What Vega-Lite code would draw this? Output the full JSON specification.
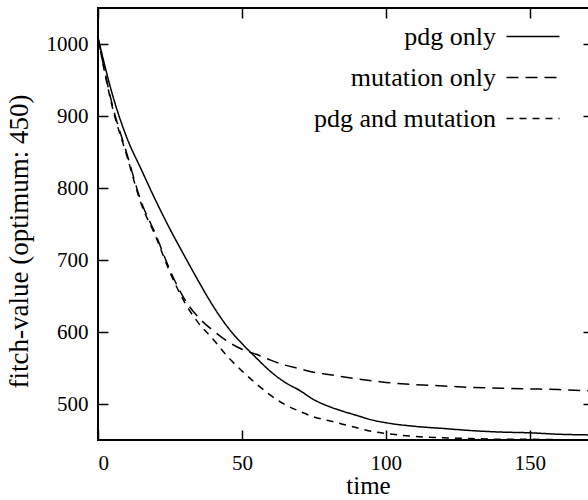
{
  "$schema": "https://vega.github.io/schema/vega-lite/v6.json",
  "autosize": "none",
  "width": 495,
  "height": 432,
  "padding": {"left": 98, "top": 8, "right": 0, "bottom": 60},
  "background": "white",
  "config": {
    "view": {"stroke": "black", "strokeWidth": 2, "fill": "transparent"},
    "font": "Liberation Serif",
    "axis": {
      "domain": false,
      "tickColor": "black",
      "tickWidth": 1.5,
      "tickSize": 10,
      "gridColor": "black",
      "gridWidth": 1.5,
      "gridOpacity": 1,
      "labelFont": "Liberation Serif",
      "labelFontSize": 21,
      "labelColor": "black",
      "titleFont": "Liberation Serif",
      "titleFontSize": 27,
      "titleFontWeight": "normal",
      "titleColor": "black"
    }
  },
  "data": {
    "values": [
      {"time": 0, "series": "pdg only", "value": 1009},
      {"time": 5, "series": "pdg only", "value": 930},
      {"time": 10, "series": "pdg only", "value": 870},
      {"time": 15, "series": "pdg only", "value": 826},
      {"time": 20, "series": "pdg only", "value": 783},
      {"time": 25, "series": "pdg only", "value": 743},
      {"time": 30, "series": "pdg only", "value": 706},
      {"time": 35, "series": "pdg only", "value": 670},
      {"time": 40, "series": "pdg only", "value": 636},
      {"time": 45, "series": "pdg only", "value": 607},
      {"time": 50, "series": "pdg only", "value": 584},
      {"time": 55, "series": "pdg only", "value": 564},
      {"time": 60, "series": "pdg only", "value": 545},
      {"time": 65, "series": "pdg only", "value": 530},
      {"time": 70, "series": "pdg only", "value": 519},
      {"time": 75, "series": "pdg only", "value": 506},
      {"time": 80, "series": "pdg only", "value": 497},
      {"time": 85, "series": "pdg only", "value": 490},
      {"time": 90, "series": "pdg only", "value": 484},
      {"time": 95, "series": "pdg only", "value": 478},
      {"time": 100, "series": "pdg only", "value": 474},
      {"time": 110, "series": "pdg only", "value": 469},
      {"time": 120, "series": "pdg only", "value": 466},
      {"time": 130, "series": "pdg only", "value": 463},
      {"time": 140, "series": "pdg only", "value": 461},
      {"time": 150, "series": "pdg only", "value": 460},
      {"time": 160, "series": "pdg only", "value": 458},
      {"time": 172, "series": "pdg only", "value": 457},
      {"time": 0, "series": "mutation only", "value": 1008},
      {"time": 5, "series": "mutation only", "value": 915},
      {"time": 10, "series": "mutation only", "value": 848},
      {"time": 15, "series": "mutation only", "value": 781},
      {"time": 20, "series": "mutation only", "value": 736},
      {"time": 25, "series": "mutation only", "value": 686},
      {"time": 30, "series": "mutation only", "value": 646},
      {"time": 35, "series": "mutation only", "value": 620},
      {"time": 40, "series": "mutation only", "value": 602},
      {"time": 45, "series": "mutation only", "value": 587},
      {"time": 50, "series": "mutation only", "value": 576},
      {"time": 55, "series": "mutation only", "value": 569},
      {"time": 60, "series": "mutation only", "value": 561},
      {"time": 65, "series": "mutation only", "value": 554},
      {"time": 70, "series": "mutation only", "value": 549},
      {"time": 75, "series": "mutation only", "value": 544},
      {"time": 80, "series": "mutation only", "value": 541},
      {"time": 90, "series": "mutation only", "value": 535},
      {"time": 100, "series": "mutation only", "value": 530},
      {"time": 110, "series": "mutation only", "value": 527},
      {"time": 120, "series": "mutation only", "value": 525},
      {"time": 130, "series": "mutation only", "value": 523},
      {"time": 140, "series": "mutation only", "value": 522},
      {"time": 150, "series": "mutation only", "value": 521},
      {"time": 160, "series": "mutation only", "value": 520},
      {"time": 172, "series": "mutation only", "value": 518},
      {"time": 0, "series": "pdg and mutation", "value": 1008},
      {"time": 5, "series": "pdg and mutation", "value": 912},
      {"time": 10, "series": "pdg and mutation", "value": 845},
      {"time": 15, "series": "pdg and mutation", "value": 778},
      {"time": 20, "series": "pdg and mutation", "value": 733},
      {"time": 25, "series": "pdg and mutation", "value": 683},
      {"time": 30, "series": "pdg and mutation", "value": 642},
      {"time": 35, "series": "pdg and mutation", "value": 612},
      {"time": 40, "series": "pdg and mutation", "value": 590},
      {"time": 45, "series": "pdg and mutation", "value": 566},
      {"time": 50, "series": "pdg and mutation", "value": 546},
      {"time": 55, "series": "pdg and mutation", "value": 528},
      {"time": 60, "series": "pdg and mutation", "value": 512},
      {"time": 65, "series": "pdg and mutation", "value": 499},
      {"time": 70, "series": "pdg and mutation", "value": 490},
      {"time": 75, "series": "pdg and mutation", "value": 482},
      {"time": 80, "series": "pdg and mutation", "value": 477},
      {"time": 85, "series": "pdg and mutation", "value": 472},
      {"time": 90, "series": "pdg and mutation", "value": 467},
      {"time": 95, "series": "pdg and mutation", "value": 462},
      {"time": 100, "series": "pdg and mutation", "value": 459},
      {"time": 110, "series": "pdg and mutation", "value": 455},
      {"time": 120, "series": "pdg and mutation", "value": 453},
      {"time": 130, "series": "pdg and mutation", "value": 452},
      {"time": 140, "series": "pdg and mutation", "value": 451},
      {"time": 150, "series": "pdg and mutation", "value": 451},
      {"time": 160, "series": "pdg and mutation", "value": 450.5},
      {"time": 172, "series": "pdg and mutation", "value": 450.5}
    ]
  },
  "resolve": {"axis": {"x": "independent", "y": "independent"}},
  "layer": [
    {
      "mark": {"type": "line", "stroke": "black", "strokeWidth": 1.5, "interpolate": "monotone"},
      "encoding": {
        "x": {
          "field": "time", "type": "quantitative",
          "scale": {"domain": [0, 172], "nice": false, "zero": false},
          "axis": {"orient": "bottom", "values": [0, 50, 100, 150], "format": "d", "ticks": false, "grid": true, "gridDash": [10, 412, 10, 1000], "title": "time", "labelPadding": 12, "titleX": 270, "titleY": 53, "titleBaseline": "alphabetic", "titleFontSize": 25}
        },
        "y": {
          "field": "value", "type": "quantitative",
          "scale": {"domain": [450, 1050], "nice": false, "zero": false},
          "axis": {"orient": "left", "values": [500, 600, 700, 800, 900, 1000], "format": "d", "ticks": false, "grid": true, "gridDash": [10, 1000], "title": "fitch-value (optimum:  450)", "labelPadding": 10, "titleX": -65, "titleY": 233}
        },
        "strokeDash": {
          "field": "series", "type": "nominal",
          "scale": {"domain": ["pdg only", "mutation only", "pdg and mutation"], "range": [[1, 0], [12, 7], [7, 6]]},
          "legend": {
            "orient": "none", "legendX": 208, "legendY": 1, "title": null, "padding": 0,
            "labelFont": "Liberation Serif", "labelFontSize": 26, "labelColor": "black", "labelLimit": 400,
            "symbolType": "stroke", "symbolSize": 2809, "symbolStrokeWidth": 1.5, "symbolStrokeColor": "black",
            "rowPadding": -8,
            "encode": {
              "labels": {"update": {"x": {"value": 190}, "align": {"value": "right"}}},
              "symbols": {"update": {"x": {"value": 227}}}
            }
          }
        }
      }
    },
    {
      "mark": {"type": "point", "opacity": 0},
      "encoding": {
        "x": {
          "field": "time", "type": "quantitative",
          "scale": {"domain": [0, 172], "nice": false, "zero": false},
          "axis": null
        },
        "y": {
          "field": "value", "type": "quantitative",
          "scale": {"domain": [450, 1050], "nice": false, "zero": false},
          "axis": {"orient": "right", "values": [500, 600, 900, 1000], "labels": false, "grid": false, "offset": -10, "title": null}
        }
      }
    }
  ]
}
